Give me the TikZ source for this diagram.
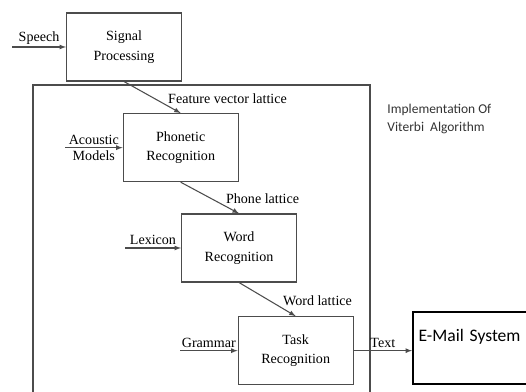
\documentclass[tikz,border=0pt]{standalone}
\usepackage{fontspec}
\setmainfont{Liberation Serif}
\newfontfamily\calib{Carlito}

\begin{document}
\begin{tikzpicture}[
    font=\fontsize{12}{17}\selectfont,
    block/.style={rectangle, draw=black!70, line width=0.9pt, align=center, minimum width=3.45cm, minimum height=2.04cm},
    feed/.style={draw=black!70, line width=0.9pt, -latex},
    lattice/.style={pos=0.75, anchor=south west, inner sep=1pt}
]
\useasboundingbox (0, 0) rectangle (15.78, -11.76);
\clip (0, 0) rectangle (15.78, -11.76);

\node at (3.72, -1.41) [block] (SP) {Signal\\Processing};
\node at (5.42, -4.43) [block] (PR) {Phonetic\\Recognition};
\node at (7.17, -7.44) [block] (WR) {Word\\Recognition};
\node at (8.87, -10.52) [block] (TR) {Task\\Recognition};

\node at (12.36, -9.33) [anchor=north west, draw, line width=1.6pt, text width=3.9cm, align=left, inner xsep=0.17cm, inner ysep=0.25cm, text height=0.65cm, text depth=1.01cm, font=\calib\fontsize{15}{18}\selectfont] (EM) {E-Mail System};

\node at (11.5, -3.57) [anchor=west, align=left, font=\calib\fontsize{11.5}{15.4}\selectfont, text=black!80] (VA) {Implementation Of\\Viterbi\ \ Algorithm};

% outer frame (runs off the bottom)
\draw[draw=black!70, line width=0.9pt] (0.99, -2.55) rectangle (11.1, -12.3);

\coordinate (speechin) at (0.36, -1.41);
\coordinate (acousticin) at (1.95, -4.43);
\coordinate (lexiconin) at (3.75, -7.44);
\coordinate (grammarin) at (5.4, -10.52);

\draw[feed] (speechin) -- node[above, inner sep=2pt] {Speech} (SP.west);
\draw[feed] (acousticin) -- node[above, inner sep=2pt] {Acoustic} node[below, inner sep=2pt] {Models} (PR.west);
\draw[feed] (lexiconin) -- node[above, inner sep=2pt] {Lexicon} (WR.west);
\draw[feed] (grammarin) -- node[above, inner sep=2pt] {Grammar} (TR.west);

\draw[feed] (SP.south) -- node[lattice] {Feature vector lattice} (PR.north);
\draw[feed] (PR.south) -- node[lattice] {Phone lattice} (WR.north);
\draw[feed] (WR.south) -- node[lattice] {Word lattice} (TR.north);

\draw[feed] (TR.east) -- node[above, inner sep=2pt] {Text} (TR.east -| EM.west);
\end{tikzpicture}
\end{document}
